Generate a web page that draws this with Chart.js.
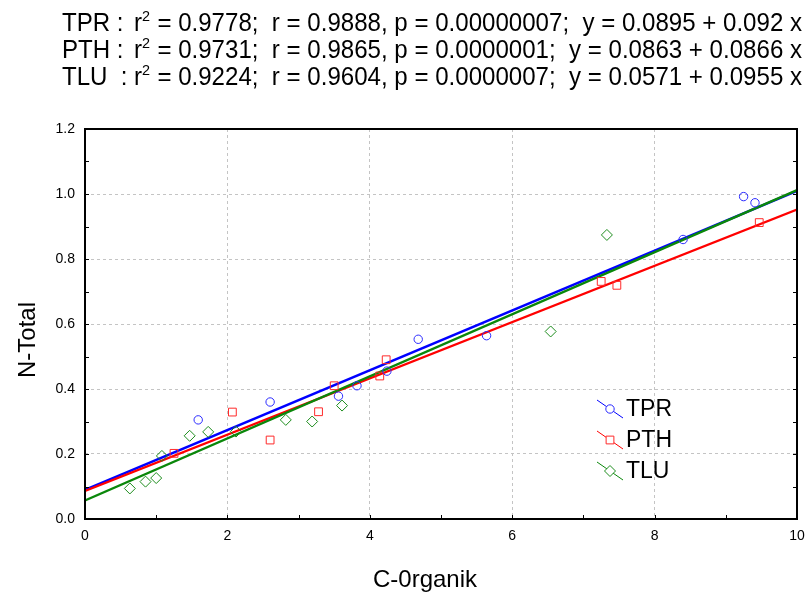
<!DOCTYPE html>
<html>
<head>
<meta charset="utf-8">
<script src="https://cdn.jsdelivr.net/npm/chart.js@4.4.0/dist/chart.umd.min.js"></script>
<style>
  html, body { margin: 0; padding: 0; background: #fff; }
  #wrap { position: relative; width: 810px; height: 596px; }
</style>
</head>
<body>
<div id="wrap"><canvas id="chart"></canvas></div>
<script>
// C-organic vs N-total, three sites
const tprC = [1.59, 2.60, 3.56, 3.82, 4.24, 4.68, 5.64, 8.40, 9.25, 9.41];
const tprN = [0.305, 0.36, 0.378, 0.41, 0.455, 0.553, 0.564, 0.86, 0.992, 0.973];
const pthC = [1.25, 2.07, 2.60, 3.28, 3.50, 4.14, 4.23, 7.25, 7.47, 9.47];
const pthN = [0.202, 0.329, 0.243, 0.33, 0.41, 0.44, 0.49, 0.731, 0.719, 0.912];
const tluC = [0.63, 0.85, 1.00, 1.08, 1.47, 1.73, 2.12, 2.82, 3.19, 3.61, 6.54, 7.33];
const tluN = [0.094, 0.115, 0.126, 0.194, 0.256, 0.268, 0.269, 0.305, 0.30, 0.349, 0.577, 0.874];

const seriesNames = ["TPR", "PTH", "TLU"];
const r2Values = ["0.9778", "0.9731", "0.9224"];
const rValues = ["0.9888", "0.9865", "0.9604"];
const pValues = ["0.00000007", "0.0000001", "0.0000007"];
const intercepts = [0.0895, 0.0863, 0.0571];
const slopes = [0.092, 0.0866, 0.0955];

const xTicks = [0, 2, 4, 6, 8, 10];
const yTicks = [0, 0.2, 0.4, 0.6, 0.8, 1.0, 1.2];

const lineColors = ["#0000ff", "#ff0000", "#0a870a"];
const markerColors = ["#2a2aff", "#ff2a2a", "#1c8c1c"];
const markerStyles = ["circle", "rect", "rectRot"];
const markerRadius = [4.2, 5.5, 5.5];

const toPoints = (xs, ys) => xs.map((v, i) => ({ x: v, y: ys[i] }));
const pointSets = [toPoints(tprC, tprN), toPoints(pthC, pthN), toPoints(tluC, tluN)];

const scatterSets = pointSets.map((pts, i) => ({
  label: seriesNames[i],
  type: "scatter",
  data: pts,
  pointStyle: markerStyles[i],
  pointRadius: markerRadius[i],
  borderColor: markerColors[i],
  backgroundColor: "rgba(0,0,0,0)",
  pointBorderWidth: 1,
  order: 0,
}));

const fitSets = seriesNames.map((name, i) => ({
  label: name + " fit",
  type: "line",
  data: [0, 10].map((x) => ({ x, y: intercepts[i] + slopes[i] * x })),
  borderColor: lineColors[i],
  borderWidth: 2.4,
  pointRadius: 0,
  fill: false,
  order: 3 - i,
}));

const FONT = '"Liberation Sans", Arial, sans-serif';
const NARROW = '"Liberation Sans Narrow", "Arial Narrow", "Liberation Sans", sans-serif';

// frame, inward ticks, header lines, axis titles and the in-plot legend
const decorations = {
  id: "decorations",
  afterDraw(chart) {
    const { ctx, chartArea: { left, top, right, bottom }, scales: { x, y } } = chart;
    ctx.save();

    ctx.strokeStyle = "#000";
    ctx.lineWidth = 1;
    for (let v = 0; v <= 12; v++) {
      const py = Math.round(y.getPixelForValue(v / 10)) + 0.5;
      ctx.beginPath();
      ctx.moveTo(left, py); ctx.lineTo(left + 4, py);
      ctx.moveTo(right, py); ctx.lineTo(right - 4, py);
      ctx.stroke();
    }
    for (let v = 0; v <= 10; v++) {
      const px = Math.round(x.getPixelForValue(v)) + 0.5;
      ctx.beginPath();
      ctx.moveTo(px, bottom); ctx.lineTo(px, bottom - 4);
      ctx.stroke();
    }
    ctx.lineWidth = 2;
    ctx.strokeRect(left, top, right - left, bottom - top);

    // regression summary, one line per site, squeezed to a fixed width
    ctx.fillStyle = "#000";
    ctx.textBaseline = "alphabetic";
    ctx.textAlign = "left";
    const prefixes = ["TPR :", "PTH :", "TLU  :"];
    const bodies = seriesNames.map((_, i) =>
      ` = ${r2Values[i]};  r = ${rValues[i]}, p = ${pValues[i]};  y = ${intercepts[i]} + ${slopes[i]} x`);
    ctx.font = "25px " + NARROW;
    const natural = ctx.measureText("r").width + ctx.measureText(bodies[0]).width + 9;
    const sx = 668 / natural;
    seriesNames.forEach((name, i) => {
      const base = 31 + i * 27;
      ctx.save();
      ctx.translate(62, base);
      ctx.scale(sx, 1);
      ctx.font = "25px " + NARROW;
      ctx.fillText(prefixes[i], 0, 0);
      ctx.restore();

      ctx.save();
      ctx.translate(134, base);
      ctx.scale(sx, 1);
      ctx.font = "25px " + NARROW;
      ctx.fillText("r", 0, 0);
      let cx = ctx.measureText("r").width;
      ctx.font = "15px " + NARROW;
      ctx.fillText("2", cx, -10);
      cx += 9;
      ctx.font = "25px " + NARROW;
      ctx.fillText(bodies[i], cx, 0);
      ctx.restore();
    });

    // axis titles
    ctx.font = "24px " + FONT;
    ctx.textAlign = "center";
    ctx.textBaseline = "middle";
    ctx.fillText("C-0rganik", 425, 580);
    ctx.save();
    ctx.translate(28, 340);
    ctx.rotate(-Math.PI / 2);
    ctx.fillText("N-Total", 0, 0);
    ctx.restore();

    // legend
    ctx.textAlign = "left";
    ctx.font = "23px " + FONT;
    seriesNames.forEach((name, i) => {
      const cy = 409 + i * 31;
      ctx.strokeStyle = lineColors[i];
      ctx.lineWidth = 1;
      ctx.beginPath();
      ctx.moveTo(597, cy - 9);
      ctx.lineTo(623, cy + 9);
      ctx.stroke();
      ctx.fillStyle = "#fff";
      ctx.strokeStyle = markerColors[i];
      Chart.helpers.drawPoint(ctx, { pointStyle: markerStyles[i], radius: markerRadius[i], rotation: 0, borderWidth: 1 }, 610, cy);
      ctx.fillStyle = "#000";
      ctx.fillText(name, 626, cy + 1);
    });

    ctx.restore();
  },
};

new Chart(document.getElementById("chart"), {
  type: "scatter",
  data: { datasets: [...scatterSets, ...fitSets] },
  options: {
    responsive: true,
    maintainAspectRatio: false,
    animation: false,
    layout: { padding: { top: 129, right: 13, left: 0, bottom: 0 } },
    plugins: { legend: { display: false }, tooltip: { enabled: false }, title: { display: false } },
    scales: {
      x: {
        type: "linear",
        min: 0,
        max: 10,
        afterBuildTicks: (s) => { s.ticks = xTicks.map((v) => ({ value: v })); },
        ticks: { color: "#000", font: { family: FONT, size: 14 }, padding: 9, maxRotation: 0 },
        grid: { color: "#c4c4c4", lineWidth: 1, drawTicks: false },
        border: { display: false, dash: [3, 3] },
        afterFit: (s) => { s.height = 77; s.paddingLeft = 0; s.paddingRight = 0; },
      },
      y: {
        type: "linear",
        min: 0,
        max: 1.2,
        afterBuildTicks: (s) => { s.ticks = yTicks.map((v) => ({ value: v })); },
        ticks: { color: "#000", font: { family: FONT, size: 14 }, padding: 10, callback: (v) => v.toFixed(1) },
        grid: { color: "#c4c4c4", lineWidth: 1, drawTicks: false },
        border: { display: false, dash: [3, 3] },
        afterFit: (s) => { s.width = 85; s.paddingTop = 0; s.paddingBottom = 0; },
      },
    },
  },
  plugins: [decorations],
});
</script>
</body>
</html>
